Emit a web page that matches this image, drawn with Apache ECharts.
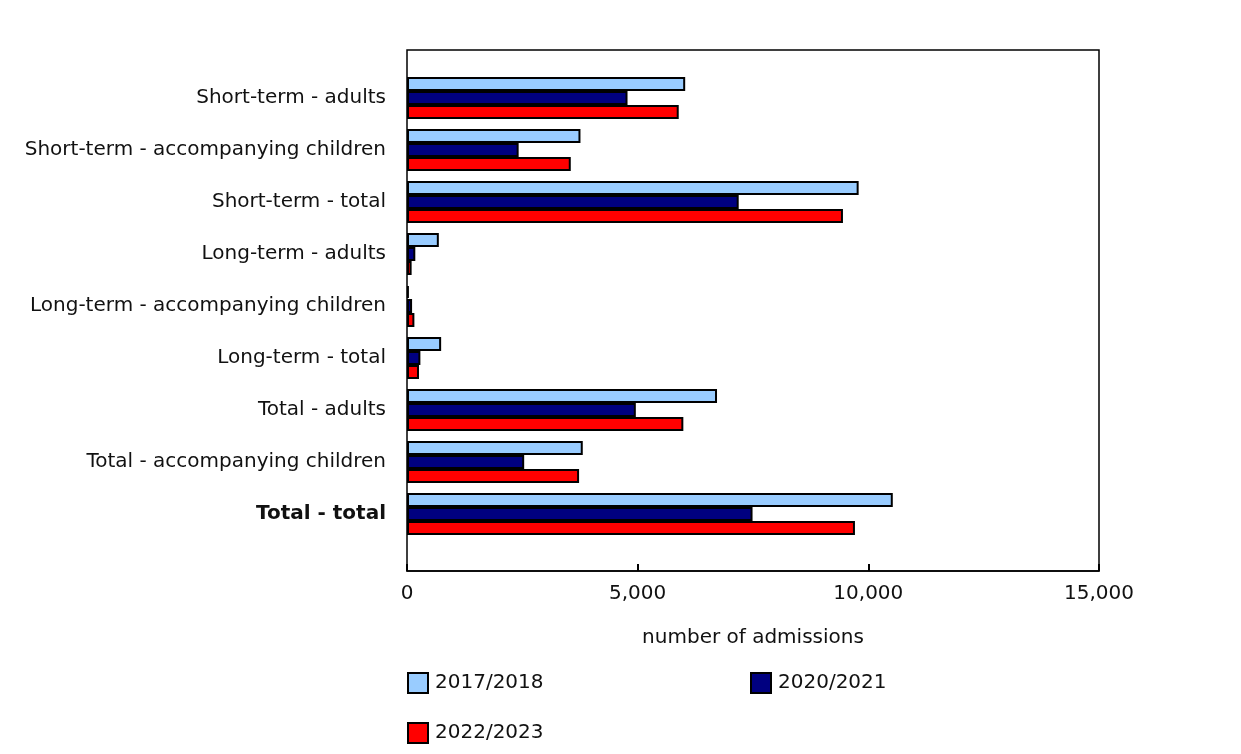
<!DOCTYPE html>
<html>
<head>
<meta charset="utf-8">
<script src="https://cdn.jsdelivr.net/npm/echarts@6/dist/echarts.min.js"></script>
<style>html,body{margin:0;padding:0;background:#fff}#c{width:1241px;height:754px}</style>
</head>
<body>
<div id="c"></div>
<script>
const categories = ["Short-term - adults","Short-term - accompanying children","Short-term - total","Long-term - adults","Long-term - accompanying children","Long-term - total","Total - adults","Total - accompanying children","Total - total"];
const seriesNames = ["2017/2018","2020/2021","2022/2023"];
const v2017 = [6030,3760,9790,690,40,740,6720,3810,10530];
const v2020 = [4780,2420,7190,180,110,290,4960,2540,7490];
const v2022 = [5890,3550,9450,100,160,260,5990,3730,9710];
const xTicks = [0,5000,10000,15000];

const colors = ["#99CCFF","#000080","#FF0000"];
const FONT = "DejaVu Sans";
const TXT = "#111";
const chart = echarts.init(document.getElementById('c'));
const dataArr = [v2017,v2020,v2022];
const series = seriesNames.map((n,i)=>({
  name:n, type:'bar', data:dataArr[i], xAxisIndex:0, yAxisIndex:0,
  barWidth:14, barGap:'0%',
  itemStyle:{color:colors[i], borderColor:'#000', borderWidth:2},
  emphasis:{disabled:true}, animation:false
}));
const xMin = xTicks[0], xMax = xTicks[xTicks.length-1], xInt = xTicks[1]-xTicks[0];
chart.setOption({
  animation:false,
  textStyle:{fontFamily:FONT},
  grid:[
    {left:407, right:142, top:72, bottom:214, containLabel:false},
    {left:407, right:142, top:50, bottom:183, show:true, borderColor:'#000', borderWidth:1.5, backgroundColor:'transparent', z:10}
  ],
  xAxis:[
    {type:'value', gridIndex:0, min:xMin, max:xMax, interval:xInt, position:'bottom', offset:31,
     axisLine:{show:false}, axisTick:{show:false},
     splitLine:{show:false},
     axisLabel:{fontFamily:FONT, fontSize:20, color:TXT, margin:13,
       formatter:v=>v.toLocaleString('en-US')},
     name:'number of admissions', nameLocation:'middle', nameGap:57,
     nameTextStyle:{fontFamily:FONT, fontSize:20, color:TXT}},
    {type:'value', gridIndex:1, min:xMin, max:xMax, interval:xInt, position:'bottom', z:20,
     axisLine:{show:true, lineStyle:{color:'#000', width:1.5}}, axisLabel:{show:false}, splitLine:{show:false},
     axisTick:{show:true, inside:true, length:7, lineStyle:{color:'#000', width:2}}}
  ],
  yAxis:[
    {type:'category', gridIndex:0, data:categories, inverse:true,
     axisLine:{show:false}, axisTick:{show:false},
     axisLabel:{fontFamily:FONT, fontSize:20, color:TXT, margin:21,
       formatter:v=> v==="Total - total" ? '{b|'+v+'}' : v,
       rich:{b:{fontFamily:FONT, fontSize:20, fontWeight:'bold', color:TXT}}}},
    {type:'value', gridIndex:1, show:false, min:0, max:1}
  ],
  legend:seriesNames.map((n,i)=>({
    data:[n], left:[407,750,407][i], top:[672,672,722][i], padding:0,
    icon:'rect', itemWidth:20, itemHeight:20, itemGap:0,
    itemStyle:{borderColor:'#000', borderWidth:2},
    textStyle:{fontFamily:FONT, fontSize:20, color:TXT, padding:[0,0,0,2]},
    selectedMode:false
  })),
  series:series
});
</script>
</body>
</html>
